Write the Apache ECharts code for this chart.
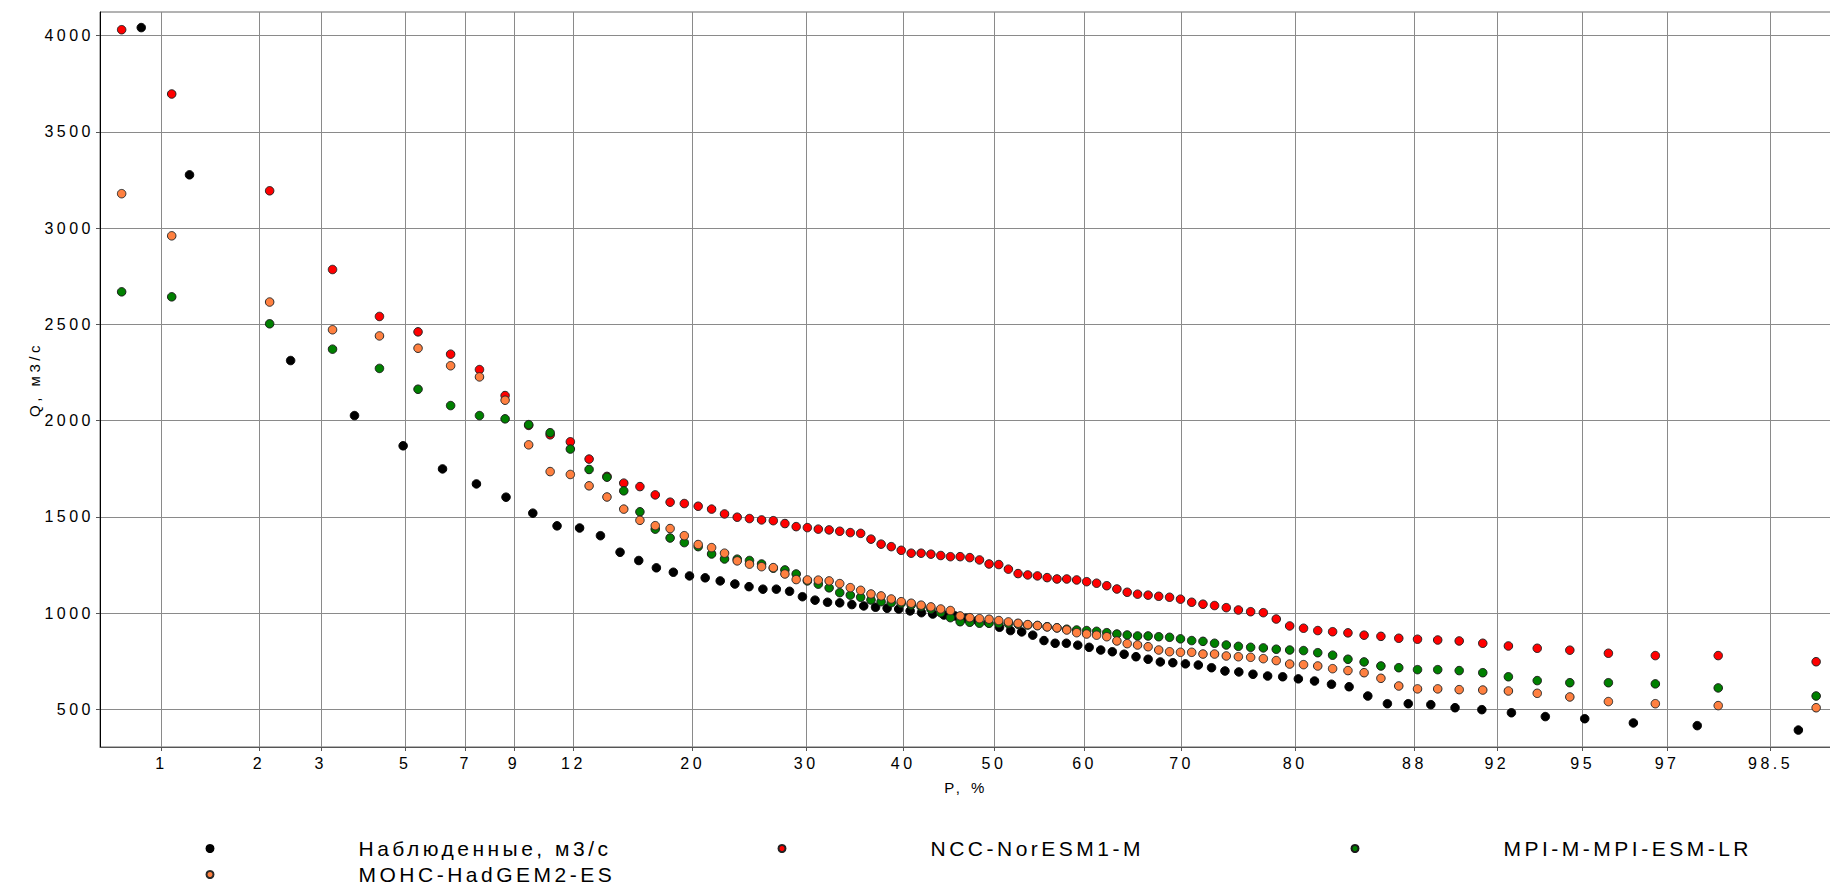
<!DOCTYPE html>
<html>
<head>
<meta charset="utf-8">
<script src="https://cdn.jsdelivr.net/npm/echarts@6/dist/echarts.min.js"></script>
<style>
  html, body { margin: 0; padding: 0; background: #ffffff; }
  #chart { width: 1830px; height: 886px; }
  #chart text { letter-spacing: 3.5px; }
</style>
</head>
<body>
<div id="chart"></div>
<script>
// Probability-paper gridlines (exceedance probability, %)
const probTicks = [1, 2, 3, 5, 7, 9, 12, 20, 30, 40, 50, 60, 70, 80, 88, 92, 95, 97, 98.5];
const qTicks = [500, 1000, 1500, 2000, 2500, 3000, 3500, 4000];

const seriesNames = ['Наблюденные, м3/с', 'NCC-NorESM1-M', 'MPI-M-MPI-ESM-LR', 'MOHC-HadGEM2-ES'];

// Observed series: exceedance probability, % and discharge, m3/s
const pObserved = [0.86,
  1.23, 2.47, 3.70, 4.94, 6.17, 7.41, 8.64, 9.88, 11.11, 12.35,
  13.58, 14.81, 16.05, 17.28, 18.52, 19.75, 20.99, 22.22, 23.46, 24.69,
  25.93, 27.16, 28.40, 29.63, 30.86, 32.10, 33.33, 34.57, 35.80, 37.04,
  38.27, 39.51, 40.74, 41.98, 43.21, 44.44, 45.68, 46.91, 48.15, 49.38,
  50.62, 51.85, 53.09, 54.32, 55.56, 56.79, 58.02, 59.26, 60.49, 61.73,
  62.96, 64.20, 65.43, 66.67, 67.90, 69.14, 70.37, 71.60, 72.84, 74.07,
  75.31, 76.54, 77.78, 79.01, 80.25, 81.48, 82.72, 83.95, 85.19, 86.42,
  87.65, 88.89, 90.12, 91.36, 92.59, 93.83, 95.06, 96.30, 97.53, 98.77];
const qObserved = [4042,
  3277, 2312, 2026, 1869, 1749, 1671, 1602, 1519, 1453, 1442,
  1402, 1316, 1273, 1235, 1212, 1193, 1183, 1167, 1151, 1137,
  1124, 1124, 1113, 1085, 1067, 1056, 1053, 1044, 1037, 1030,
  1025, 1021, 1011, 1002, 995, 990, 985, 973, 961, 950,
  926, 909, 902, 885, 857, 843, 843, 833, 822, 808,
  799, 786, 773, 760, 746, 742, 736, 730, 716, 699,
  694, 682, 673, 669, 658, 647, 630, 617, 569, 529,
  529, 524, 508, 498, 482, 462, 451, 429, 415, 392];

// Model series share the same exceedance probabilities, %
const pModel = [0.74,
  1.08, 2.15, 3.23, 4.30, 5.38, 6.45, 7.53, 8.60, 9.68, 10.75,
  11.83, 12.90, 13.98, 15.05, 16.13, 17.20, 18.28, 19.35, 20.43, 21.51,
  22.58, 23.66, 24.73, 25.81, 26.88, 27.96, 29.03, 30.11, 31.18, 32.26,
  33.33, 34.41, 35.48, 36.56, 37.63, 38.71, 39.78, 40.86, 41.94, 43.01,
  44.09, 45.16, 46.24, 47.31, 48.39, 49.46, 50.54, 51.61, 52.69, 53.76,
  54.84, 55.91, 56.99, 58.06, 59.14, 60.22, 61.29, 62.37, 63.44, 64.52,
  65.59, 66.67, 67.74, 68.82, 69.89, 70.97, 72.04, 73.12, 74.19, 75.27,
  76.34, 77.42, 78.49, 79.57, 80.65, 81.72, 82.80, 83.87, 84.95, 86.02,
  87.10, 88.17, 89.25, 90.32, 91.40, 92.47, 93.55, 94.62, 95.70, 96.77,
  97.85, 98.92];
const qNorESM = [4031,
  3697, 3194, 2785, 2541, 2461, 2345, 2265, 2130, 1975, 1926,
  1890, 1800, 1710, 1675, 1657, 1614, 1576, 1569, 1555, 1540,
  1515, 1498, 1491, 1484, 1480, 1465, 1449, 1444, 1436, 1432,
  1425, 1418, 1414, 1384, 1358, 1345, 1326, 1311, 1311, 1306,
  1299, 1293, 1293, 1288, 1276, 1255, 1252, 1228, 1205, 1198,
  1193, 1184, 1177, 1177, 1172, 1163, 1155, 1142, 1125, 1108,
  1098, 1093, 1087, 1082, 1072, 1056, 1046, 1039, 1028, 1016,
  1007, 1002, 969, 933, 921, 909, 903, 897, 885, 879,
  869, 864, 860, 855, 843, 829, 817, 807, 791, 779,
  779, 747];
const qMPI = [2669,
  2643, 2503, 2371, 2271, 2163, 2078, 2026, 2009, 1979, 1937,
  1852, 1746, 1706, 1635, 1526, 1436, 1390, 1366, 1345, 1307,
  1281, 1280, 1273, 1255, 1233, 1224, 1203, 1167, 1150, 1131,
  1106, 1093, 1082, 1068, 1059, 1054, 1051, 1042, 1033, 1020,
  1002, 976, 955, 952, 947, 947, 946, 945, 942, 938,
  935, 929, 923, 916, 912, 909, 905, 898, 891, 886,
  881, 881, 877, 874, 866, 857, 853, 843, 834, 827,
  822, 819, 812, 808, 805, 794, 781, 760, 746, 725,
  716, 706, 706, 701, 690, 669, 649, 638, 638, 632,
  611, 569];
const qHadGEM = [3179,
  2960, 2616, 2472, 2440, 2376, 2285, 2227, 2106, 1874, 1735,
  1720, 1661, 1603, 1540, 1482, 1454, 1439, 1402, 1356, 1340,
  1311, 1271, 1254, 1241, 1236, 1203, 1174, 1172, 1171, 1167,
  1153, 1132, 1118, 1099, 1089, 1073, 1059, 1051, 1041, 1032,
  1021, 1013, 985, 976, 971, 968, 961, 954, 947, 940,
  935, 928, 923, 912, 898, 891, 885, 877, 855, 841,
  834, 825, 808, 799, 796, 796, 787, 787, 777, 773,
  770, 763, 753, 735, 732, 725, 711, 701, 690, 661,
  621, 606, 606, 602, 600, 595, 583, 564, 540, 529,
  519, 508];

// Probability axis limits, % and discharge axis limits, m3/s
const probLimits = [0.625, 99.04];
const qLimits = [304, 4123];

// Inverse standard normal CDF (Acklam) — maps probability to the normal-paper coordinate
function normInv(p) {
  const a = [-3.969683028665376e+01, 2.209460984245205e+02, -2.759285104469687e+02, 1.383577518672690e+02, -3.066479806614716e+01, 2.506628277459239e+00];
  const b = [-5.447609879822406e+01, 1.615858368580409e+02, -1.556989798598866e+02, 6.680131188771972e+01, -1.328068155288572e+01];
  const c = [-7.784894002430293e-03, -3.223964580411365e-01, -2.400758277161838e+00, -2.549732539343734e+00, 4.374664141464968e+00, 2.938163982698783e+00];
  const d = [7.784695709041462e-03, 3.224671290700398e-01, 2.445134137142996e+00, 3.754408661907416e+00];
  const pl = 0.02425, ph = 1 - pl;
  let q, r;
  if (p < pl) {
    q = Math.sqrt(-2 * Math.log(p));
    return (((((c[0] * q + c[1]) * q + c[2]) * q + c[3]) * q + c[4]) * q + c[5]) /
      ((((d[0] * q + d[1]) * q + d[2]) * q + d[3]) * q + 1);
  }
  if (p <= ph) {
    q = p - 0.5; r = q * q;
    return (((((a[0] * r + a[1]) * r + a[2]) * r + a[3]) * r + a[4]) * r + a[5]) * q /
      (((((b[0] * r + b[1]) * r + b[2]) * r + b[3]) * r + b[4]) * r + 1);
  }
  q = Math.sqrt(-2 * Math.log(1 - p));
  return -(((((c[0] * q + c[1]) * q + c[2]) * q + c[3]) * q + c[4]) * q + c[5]) /
    ((((d[0] * q + d[1]) * q + d[2]) * q + d[3]) * q + 1);
}
const zOf = P => normInv(P / 100);
const tickZ = probTicks.map(zOf);

function pairs(pArr, qArr) {
  return pArr.map((p, i) => [zOf(p), qArr[i]]);
}

const FONT = '"Liberation Sans", Arial, sans-serif';
const colors = ['#000000', '#ff0000', '#008000', '#ff8040'];
const borders = ['#000000', '#222222', '#1a1a1a', '#2a2a2a'];
const seriesData = [
  pairs(pObserved, qObserved),
  pairs(pModel, qNorESM),
  pairs(pModel, qMPI),
  pairs(pModel, qHadGEM)
];

// Legend placement: marker centre x and row centre y for each entry
const legendSlots = [[209, 846], [781, 846], [1354, 846], [209, 872]];
const legends = seriesNames.map((name, i) => ({
  data: [name],
  left: legendSlots[i][0] - 3.5,
  top: legendSlots[i][1] - 8,
  orient: 'horizontal', icon: 'circle',
  itemWidth: 7, itemHeight: 7, itemGap: 0, padding: 0,
  selectedMode: false,
  textStyle: { fontFamily: FONT, fontSize: 21, color: '#000', lineHeight: 16, padding: [0, 0, 0, 140] }
}));

const chart = echarts.init(document.getElementById('chart'), null, { renderer: 'svg' });
chart.setOption({
  animation: false,
  backgroundColor: '#ffffff',
  grid: {
    left: 100, top: 12, width: 1732, bottom: 139,
    show: true, borderColor: '#666666', borderWidth: 1,
    outerBoundsMode: 'none', containLabel: false
  },
  xAxis: {
    type: 'value',
    min: zOf(probLimits[0]), max: zOf(probLimits[1]),
    name: 'P, %', nameLocation: 'middle', nameGap: 33,
    nameTextStyle: { fontFamily: FONT, fontSize: 15, color: '#000' },
    axisLine: { show: true, onZero: false, lineStyle: { color: '#555555', width: 1 } },
    axisTick: { show: true, length: 4, lineStyle: { color: '#555555' }, customValues: tickZ },
    axisLabel: {
      customValues: tickZ, margin: 8,
      fontFamily: FONT, fontSize: 16, color: '#000',
      formatter: v => {
        let best = 0;
        tickZ.forEach((z, i) => { if (Math.abs(z - v) < Math.abs(tickZ[best] - v)) best = i; });
        return String(probTicks[best]);
      }
    },
    splitLine: { show: true, lineStyle: { color: '#8a8a8a', width: 1 } }
  },
  yAxis: {
    type: 'value',
    min: qLimits[0], max: qLimits[1],
    name: 'Q, м3/с', nameLocation: 'middle', nameGap: 58,
    nameTextStyle: { fontFamily: FONT, fontSize: 15, color: '#000' },
    axisLine: { show: true, onZero: false, lineStyle: { color: '#000000', width: 1 } },
    axisTick: { show: true, length: 4, lineStyle: { color: '#555555' }, customValues: qTicks },
    axisLabel: {
      customValues: qTicks, margin: 6, fontFamily: FONT, fontSize: 16, color: '#000',
      formatter: v => String(v)
    },
    splitLine: { show: true, lineStyle: { color: '#8a8a8a', width: 1 } }
  },
  legend: legends,
  series: seriesNames.map((name, i) => ({
    name: name,
    type: 'scatter',
    symbol: 'circle',
    symbolSize: 8.5,
    data: seriesData[i],
    itemStyle: { color: colors[i], borderColor: borders[i], borderWidth: 1, opacity: 1 },
    emphasis: { disabled: true }
  }))
});
</script>
</body>
</html>
